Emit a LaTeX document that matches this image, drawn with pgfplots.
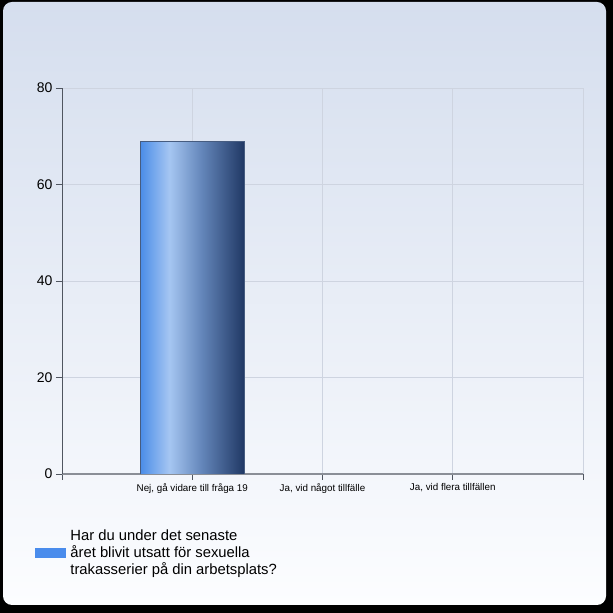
\documentclass[border=0pt]{standalone}
\usepackage{fontspec}
\setmainfont{Liberation Sans}
\usepackage{pgfplots}
\pgfplotsset{compat=1.18}

% --- colours ---
\definecolor{cardtop}{RGB}{213,222,238}
\definecolor{cardbot}{RGB}{252,253,255}
\definecolor{gridc}{RGB}{206,212,224}
\definecolor{xaxisc}{RGB}{138,142,150}
\definecolor{yaxisc}{RGB}{80,86,96}
\definecolor{barA}{RGB}{74,140,232}
\definecolor{barB}{RGB}{165,198,242}
\definecolor{barC}{RGB}{98,132,184}
\definecolor{barD}{RGB}{32,56,100}
\definecolor{barEdge}{RGB}{70,92,128}
\definecolor{legblue}{RGB}{74,140,236}

% horizontal bar shading (the inner 25bp..75bp span covers the bar)
\pgfdeclarehorizontalshading{barshade}{100bp}{%
  color(0bp)=(barA); color(25bp)=(barA); color(39bp)=(barB);
  color(55bp)=(barC); color(75bp)=(barD); color(100bp)=(barD)}

\begin{document}
\begin{tikzpicture}
    % --- card background ---
    \fill[black] (0pt,0pt) rectangle (613pt,613pt);
    \shade[top color=cardtop, bottom color=cardbot, rounded corners=9pt]
        (3pt,8pt) rectangle (606pt,611pt);

    \begin{axis}[
        at={(62pt,139pt)}, anchor=south west,
        scale only axis,
        width=521pt, height=386pt,
        % --- X-axis ---
        xmin=0, xmax=4,
        xtick={0,1,2,3,4},
        xticklabels={,{Nej, gå vidare till fråga 19},{Ja, vid något tillfälle},{Ja, vid flera tillfällen},},
        x tick label style={font=\fontsize{9.8}{11}\selectfont},
        % --- Y-axis ---
        ymin=0, ymax=80,
        ytick={0,20,40,60,80},
        y tick label style={font=\fontsize{14}{16}\selectfont},
        /pgf/number format/assume math mode=true,
        % --- axis look ---
        axis x line*=bottom,
        axis y line*=left,
        x axis line style={xaxisc, line width=1.4pt},
        y axis line style={yaxisc, line width=0.9pt},
        tick align=outside,
        major tick length=6pt,
        tick style={yaxisc, line width=0.8pt},
        grid=major,
        major grid style={gridc, line width=0.7pt},
        % --- legend ---
        legend style={
            at={(-0.0518,-0.205)}, anchor=west,
            draw=none, fill=none, inner sep=0pt, outer sep=0pt,
            font=\fontsize{14.8}{16.8}\selectfont,
            nodes={align=left, inner sep=0pt},
            column sep=5pt,
        },
        legend cell align=left,
    ]

    % the answered category (shaded bar)
    \addplot[ybar, bar width=0.8, shading=barshade, draw=barEdge, line width=0.7pt, forget plot]
    coordinates {
        (1, 69)
    };
    % categories with no answers
    \addplot[ybar, bar width=0.8, draw=none, fill=none, forget plot]
    coordinates {
        (2, 0)
        (3, 0)
    };

    \addlegendimage{legend image code/.code={\fill[legblue] (0pt,-4.5pt) rectangle (30pt,4.5pt);}}
    \addlegendentry{Har du under det senaste\\året blivit utsatt för sexuella\\trakasserier på din arbetsplats?}

    \end{axis}
\end{tikzpicture}
\end{document}
